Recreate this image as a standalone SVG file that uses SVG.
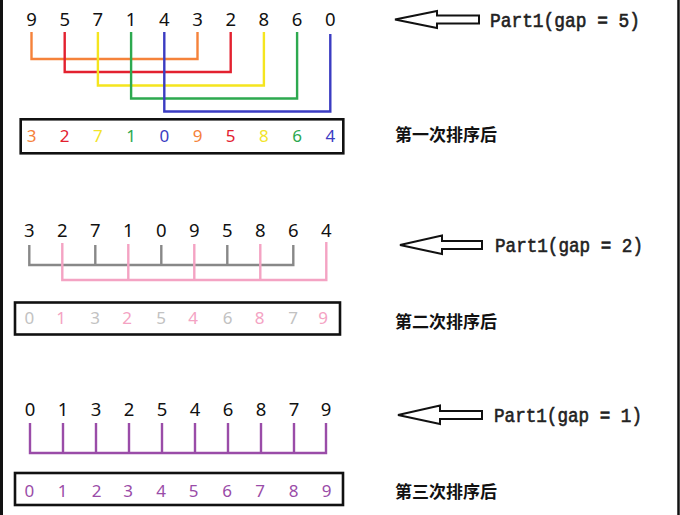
<svg xmlns="http://www.w3.org/2000/svg" width="680" height="515" viewBox="0 0 680 515">
<style>
.num{font-family:"Noto Sans","Liberation Sans",sans-serif;font-size:18.5px;text-anchor:middle;fill:#111}
.box-num{font-family:"Noto Sans","Liberation Sans",sans-serif;font-size:17px;text-anchor:middle}
.part{font-family:"Liberation Mono","DejaVu Sans Mono",monospace;font-size:19.5px;fill:#222;stroke:#222;stroke-width:0.6}
.cn{font-family:"Noto Sans CJK SC","Noto Sans CJK JP",sans-serif;font-size:17px;font-weight:bold;fill:#111}
.box{fill:none;stroke:#111;stroke-width:2.6}
.arrow{fill:#fff;stroke:#111;stroke-width:2;stroke-linejoin:miter}
.ln{fill:none;stroke-width:2.4}
.so{stroke:#F5823A}.sr{stroke:#E3212F}.sy{stroke:#F5E51E}.sg{stroke:#2DA94F}.sb{stroke:#3B3CC2}
.sgr{stroke:#888}.spk{stroke:#F4A3C3}.spu{stroke:#9A4CA8}
.fo{fill:#F5823A}.fr{fill:#E3212F}.fy{fill:#F2E42A}.fg{fill:#2DA94F}.fb{fill:#3B3CC2}
.flg{fill:#C2C2C2}.fpk{fill:#F4A3C3}.fpu{fill:#9A4CA8}
</style>
<rect x="0" y="0" width="680" height="515" fill="#fff"/>
<line x1="1.5" y1="0" x2="1.5" y2="515" stroke="#111" stroke-width="3"/>
<line x1="678.5" y1="0" x2="678.5" y2="515" stroke="#111" stroke-width="2.5"/>

<!-- Part 1: gap = 5 -->
<g id="row1-input">
<text class="num" x="31.5" y="26">9</text>
<text class="num" x="64.7" y="26">5</text>
<text class="num" x="97.9" y="26">7</text>
<text class="num" x="131.1" y="26">1</text>
<text class="num" x="164.3" y="26">4</text>
<text class="num" x="197.5" y="26">3</text>
<text class="num" x="230.7" y="26">2</text>
<text class="num" x="263.9" y="26">8</text>
<text class="num" x="297.1" y="26">6</text>
<text class="num" x="330.3" y="26">0</text>
</g>
<g id="connectors">
<path class="ln so" d="M31.5,32 V59 H197.5 V32"/>
<path class="ln sr" d="M64.7,32 V72 H230.7 V32"/>
<path class="ln sy" d="M97.9,32 V85.5 H263.9 V32"/>
<path class="ln sg" d="M131.1,32 V98.5 H297.1 V32"/>
<path class="ln sb" d="M164.3,32 V111.5 H330.3 V34"/>

<path class="ln sgr" d="M29.3,245 V265 H293.3 V245 M95.3,245 V265 M161.3,245 V265 M227.3,245 V265"/>
<path class="ln spk" d="M62.3,243 V280 H326.3 V242 M128.3,244 V280 M194.3,244 V280 M260.3,244 V280"/>

<path class="ln spu" d="M30,423 V453 H326 V423 M63,423 V453 M96,423 V453 M129,423 V453 M162,423 V453 M195,423 V453 M228,423 V453 M261,423 V453 M294,423 V453"/>
</g>
<g id="row1-result">
<rect class="box" x="20.7" y="119.3" width="322.6" height="34"/>
<text class="box-num fo" x="31.5" y="142">3</text>
<text class="box-num fr" x="64.7" y="142">2</text>
<text class="box-num fy" x="97.9" y="142">7</text>
<text class="box-num fg" x="131.1" y="142">1</text>
<text class="box-num fb" x="164.3" y="142">0</text>
<text class="box-num fo" x="197.5" y="142">9</text>
<text class="box-num fr" x="230.7" y="142">5</text>
<text class="box-num fy" x="263.9" y="142">8</text>
<text class="box-num fg" x="297.1" y="142">6</text>
<text class="box-num fb" x="330.3" y="142">4</text>
</g>
<g id="label1">
<polygon class="arrow" points="395,19.5 437,11 437,15.5 479,15.5 479,23.5 437,23.5 437,28"/>
<text class="part" x="490" y="27" textLength="150" lengthAdjust="spacingAndGlyphs">Part1(gap = 5)</text>
<text class="cn" x="395" y="141">第一次排序后</text>
</g>

<!-- Part 2: gap = 2 -->
<g id="row2-input">
<text class="num" x="29.3" y="237">3</text>
<text class="num" x="62.3" y="237">2</text>
<text class="num" x="95.3" y="237">7</text>
<text class="num" x="128.3" y="237">1</text>
<text class="num" x="161.3" y="237">0</text>
<text class="num" x="194.3" y="237">9</text>
<text class="num" x="227.3" y="237">5</text>
<text class="num" x="260.3" y="237">8</text>
<text class="num" x="293.3" y="237">6</text>
<text class="num" x="326.3" y="237">4</text>
</g>
<g id="row2-result">
<rect class="box" x="15" y="302.5" width="325" height="32"/>
<text class="box-num flg" x="29.3" y="323.5">0</text>
<text class="box-num fpk" x="61" y="323.5">1</text>
<text class="box-num flg" x="95" y="323.5">3</text>
<text class="box-num fpk" x="127" y="323.5">2</text>
<text class="box-num flg" x="161" y="323.5">5</text>
<text class="box-num fpk" x="193" y="323.5">4</text>
<text class="box-num flg" x="227.5" y="323.5">6</text>
<text class="box-num fpk" x="259.5" y="323.5">8</text>
<text class="box-num flg" x="293" y="323.5">7</text>
<text class="box-num fpk" x="323" y="323.5">9</text>
</g>
<g id="label2">
<polygon class="arrow" points="400,245 442,235.5 442,241 482,241 482,249 442,249 442,254"/>
<text class="part" x="495" y="252" textLength="148" lengthAdjust="spacingAndGlyphs">Part1(gap = 2)</text>
<text class="cn" x="395" y="327.5">第二次排序后</text>
</g>

<!-- Part 3: gap = 1 -->
<g id="row3-input">
<text class="num" x="30" y="416">0</text>
<text class="num" x="63" y="416">1</text>
<text class="num" x="96" y="416">3</text>
<text class="num" x="129" y="416">2</text>
<text class="num" x="162" y="416">5</text>
<text class="num" x="195" y="416">4</text>
<text class="num" x="228" y="416">6</text>
<text class="num" x="261" y="416">8</text>
<text class="num" x="294" y="416">7</text>
<text class="num" x="326" y="416">9</text>
</g>
<g id="row3-result">
<rect class="box" x="15" y="473" width="328" height="32"/>
<text class="box-num fpu" x="29.3" y="497">0</text>
<text class="box-num fpu" x="62.7" y="497">1</text>
<text class="box-num fpu" x="96.5" y="497">2</text>
<text class="box-num fpu" x="128" y="497">3</text>
<text class="box-num fpu" x="161" y="497">4</text>
<text class="box-num fpu" x="193.5" y="497">5</text>
<text class="box-num fpu" x="227" y="497">6</text>
<text class="box-num fpu" x="260" y="497">7</text>
<text class="box-num fpu" x="293.5" y="497">8</text>
<text class="box-num fpu" x="326.5" y="497">9</text>
</g>
<g id="label3">
<polygon class="arrow" points="398,415 440,405.5 440,411 482,411 482,419 440,419 440,424"/>
<text class="part" x="494" y="422" textLength="148" lengthAdjust="spacingAndGlyphs">Part1(gap = 1)</text>
<text class="cn" x="395" y="497.5">第三次排序后</text>
</g>
</svg>
